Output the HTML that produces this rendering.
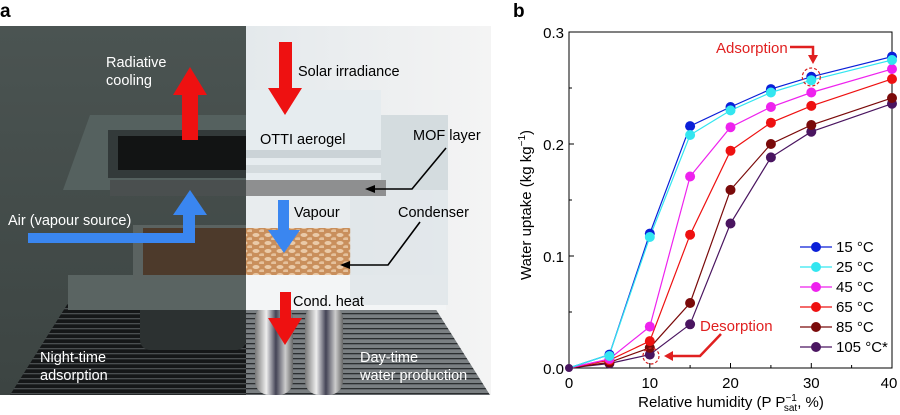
<!DOCTYPE html>
<html><head><meta charset="utf-8"><style>
html,body{margin:0;padding:0;background:#fff;}
svg{display:block;font-family:"Liberation Sans",Arial,sans-serif;}
</style></head><body>
<svg width="900" height="415" viewBox="0 0 900 415" xmlns="http://www.w3.org/2000/svg">
<defs>
<linearGradient id="dk" x1="0" y1="0" x2="0" y2="1"><stop offset="0" stop-color="#4b5452"/><stop offset="1" stop-color="#3c4442"/></linearGradient>
<linearGradient id="lt" x1="0" y1="0" x2="1" y2="0"><stop offset="0" stop-color="#e4e9ec"/><stop offset="1" stop-color="#f4f4f4"/></linearGradient>
<linearGradient id="pipe" x1="0" y1="0" x2="1" y2="0"><stop offset="0" stop-color="#777"/><stop offset="0.3" stop-color="#eee"/><stop offset="0.55" stop-color="#445"/><stop offset="0.8" stop-color="#ccc"/><stop offset="1" stop-color="#666"/></linearGradient>
<pattern id="fins" width="6" height="5" patternUnits="userSpaceOnUse"><rect width="6" height="5" fill="#151718"/><rect y="3" width="6" height="1.3" fill="#4a4e50"/></pattern>
<pattern id="finsL" width="6" height="5" patternUnits="userSpaceOnUse"><rect width="6" height="5" fill="#7a7f82"/><rect y="3" width="6" height="1.3" fill="#2b2e30"/></pattern>
<pattern id="dots" width="12" height="8" patternUnits="userSpaceOnUse"><rect width="12" height="8" fill="#c98f5c"/><ellipse cx="4" cy="3" rx="3.5" ry="2" fill="#eacaa8"/><ellipse cx="10" cy="7" rx="3" ry="1.8" fill="#e5c19c"/></pattern>
</defs>

<!-- Panel a -->
<text x="0" y="17" font-size="19" font-weight="bold">a</text>
<rect x="0" y="26" width="246" height="369" fill="url(#dk)"/>
<rect x="246" y="26" width="245" height="369" fill="url(#lt)"/>

<polygon points="10,395 70,300 246,300 246,395" fill="url(#fins)"/>
<polygon points="246,300 430,300 490,395 246,395" fill="url(#finsL)"/>
<rect x="140" y="290" width="106" height="60" rx="10" fill="#2c3131"/>
<rect x="255" y="305" width="38" height="90" rx="14" fill="url(#pipe)"/>
<rect x="305" y="305" width="38" height="90" rx="14" fill="url(#pipe)"/>

<rect x="68" y="275" width="178" height="35" fill="#5a6462"/>
<rect x="246" y="275" width="200" height="35" fill="#f3f5f6"/>
<rect x="133" y="225" width="113" height="55" fill="#5b6361"/>
<rect x="143" y="228" width="103" height="47" fill="#4d3a2b"/>
<rect x="246" y="228" width="105" height="47" fill="url(#dots)"/>
<rect x="350" y="115" width="98" height="190" fill="#dfe5e8" opacity="0.8"/>
<rect x="246" y="195" width="104" height="33" fill="#e8ecee"/>

<polygon points="63,190 90,115 246,115 246,190" fill="#55615f"/>
<rect x="108" y="130" width="138" height="48" fill="#333a3a"/>
<rect x="118" y="136" width="128" height="34" fill="#121414"/>
<rect x="246" y="90" width="135" height="100" fill="#e6ecef"/>
<rect x="246" y="150" width="135" height="8" fill="#cbd3d7"/>
<rect x="246" y="165" width="135" height="8" fill="#d4dbde"/>
<rect x="381" y="115" width="67" height="75" fill="#d4dcdf"/>
<rect x="110" y="180" width="136" height="16" fill="#4a4f4f"/>
<rect x="246" y="180" width="140" height="16" fill="#8e8f90"/>

<polygon points="182,140 198,140 198,95 207,95 190,67 173,95 182,95" fill="#ee1111"/>
<polygon points="279,42 292,42 292,88 302,88 285,115 268,88 279,88" fill="#ee1111"/>
<polygon points="28,233 183,233 183,215 173,215 190,190 207,215 195,215 195,243 28,243" fill="#3a86f0"/>
<polygon points="278,200 289,200 289,230 300,230 284,253 268,230 278,230" fill="#3a86f0"/>
<polygon points="280,292 291,292 291,318 302,318 285,345 268,318 280,318" fill="#ee1111"/>
<polyline points="446,148 412,189 372,189" fill="none" stroke="#000" stroke-width="1.6"/>
<polygon points="365,189 375,185 375,193" fill="#000"/>
<polyline points="420,222 388,265 347,265" fill="none" stroke="#000" stroke-width="1.6"/>
<polygon points="340,265 350,261 350,269" fill="#000"/>

<g font-size="14.5">
<text x="106" y="67" fill="#fff">Radiative</text>
<text x="106" y="85" fill="#fff">cooling</text>
<text x="298" y="76" fill="#000">Solar irradiance</text>
<text x="260" y="144" fill="#000">OTTI aerogel</text>
<text x="413" y="140" fill="#000">MOF layer</text>
<text x="8" y="225" fill="#fff">Air (vapour source)</text>
<text x="294" y="217" fill="#000">Vapour</text>
<text x="398" y="217" fill="#000">Condenser</text>
<text x="293" y="306" fill="#000">Cond. heat</text>
<text x="40" y="362" fill="#fff">Night-time</text>
<text x="40" y="380" fill="#fff">adsorption</text>
<text x="360" y="362" fill="#fff">Day-time</text>
<text x="360" y="380" fill="#fff">water production</text>
</g>

<!-- Panel b -->
<text x="513" y="17" font-size="19" font-weight="bold">b</text>
<rect x="569" y="32" width="323" height="336" fill="none" stroke="#000" stroke-width="1"/>
<g stroke="#000" stroke-width="1">
<line x1="569" y1="256" x2="574" y2="256"/><line x1="569" y1="144" x2="574" y2="144"/>
<line x1="569" y1="312" x2="572" y2="312"/><line x1="569" y1="200" x2="572" y2="200"/><line x1="569" y1="88" x2="572" y2="88"/>
<line x1="649.8" y1="368" x2="649.8" y2="363"/><line x1="730.5" y1="368" x2="730.5" y2="363"/><line x1="811.3" y1="368" x2="811.3" y2="363"/>
<line x1="609.4" y1="368" x2="609.4" y2="365"/><line x1="690.1" y1="368" x2="690.1" y2="365"/><line x1="770.9" y1="368" x2="770.9" y2="365"/><line x1="851.6" y1="368" x2="851.6" y2="365"/>
</g>
<g font-size="15" text-anchor="end">
<text x="564" y="374">0.0</text><text x="564" y="262">0.1</text><text x="564" y="150">0.2</text><text x="564" y="38">0.3</text>
</g>
<g font-size="15" text-anchor="middle">
<text x="569" y="388">0</text><text x="649.8" y="388">10</text><text x="730.5" y="388">20</text><text x="811.3" y="388">30</text><text x="889" y="388">40</text>
<text x="731" y="407">Relative humidity (P P<tspan font-size="10" dy="-6">−1</tspan><tspan font-size="10" dx="-13" dy="10">sat</tspan><tspan dy="-4">, %)</tspan></text>
<text transform="translate(531,205) rotate(-90)">Water uptake (kg kg<tspan font-size="10" dy="-6">−1</tspan><tspan dy="6">)</tspan></text>
</g>

<g stroke-width="1.2" fill="none">
<polyline stroke="#4a1560" points="569,368 609.4,363.5 649.8,354.6 690.1,324.3 730.5,223.5 770.9,157.4 811.3,131.7 892,103.7"/>
<polyline stroke="#7a0a0a" points="569,368 609.4,362.4 649.8,347.8 690.1,303 730.5,189.9 770.9,144 811.3,125 892,98"/>
<polyline stroke="#ee1111" points="569,368 609.4,360.2 649.8,341.1 690.1,234.7 730.5,150.7 770.9,122.7 811.3,105.9 892,79"/>
<polyline stroke="#ee22ee" points="569,368 609.4,359 649.8,326.6 690.1,176.5 730.5,127.2 770.9,107 811.3,92.5 892,69"/>
<polyline stroke="#0a1fd8" points="569,368 609.4,354.6 649.8,233.6 690.1,126.1 730.5,107 770.9,89.1 811.3,76.8 892,56.6"/>
<polyline stroke="#33e6f0" points="569,368 609.4,354.6 649.8,237 690.1,135 730.5,110.4 770.9,92.5 811.3,80.2 892,60"/>
</g>
<g>
<g fill="#4a1560"><circle cx="609.4" cy="363.5" r="5"/><circle cx="649.8" cy="354.6" r="5"/><circle cx="690.1" cy="324.3" r="5"/><circle cx="730.5" cy="223.5" r="5"/><circle cx="770.9" cy="157.4" r="5"/><circle cx="811.3" cy="131.7" r="5"/><circle cx="892" cy="103.7" r="5"/></g>
<g fill="#7a0a0a"><circle cx="609.4" cy="362.4" r="5"/><circle cx="649.8" cy="347.8" r="5"/><circle cx="690.1" cy="303" r="5"/><circle cx="730.5" cy="189.9" r="5"/><circle cx="770.9" cy="144" r="5"/><circle cx="811.3" cy="125" r="5"/><circle cx="892" cy="98" r="5"/></g>
<g fill="#ee1111"><circle cx="609.4" cy="360.2" r="5"/><circle cx="649.8" cy="341.1" r="5"/><circle cx="690.1" cy="234.7" r="5"/><circle cx="730.5" cy="150.7" r="5"/><circle cx="770.9" cy="122.7" r="5"/><circle cx="811.3" cy="105.9" r="5"/><circle cx="892" cy="79" r="5"/></g>
<g fill="#ee22ee"><circle cx="609.4" cy="359" r="5"/><circle cx="649.8" cy="326.6" r="5"/><circle cx="690.1" cy="176.5" r="5"/><circle cx="730.5" cy="127.2" r="5"/><circle cx="770.9" cy="107" r="5"/><circle cx="811.3" cy="92.5" r="5"/><circle cx="892" cy="69" r="5"/></g>
<g fill="#0a1fd8"><circle cx="609.4" cy="354.6" r="5"/><circle cx="649.8" cy="233.6" r="5"/><circle cx="690.1" cy="126.1" r="5"/><circle cx="730.5" cy="107" r="5"/><circle cx="770.9" cy="89.1" r="5"/><circle cx="811.3" cy="76.8" r="5"/><circle cx="892" cy="56.6" r="5"/></g>
<g fill="#33e6f0"><circle cx="609.4" cy="356" r="5"/><circle cx="649.8" cy="237" r="5"/><circle cx="690.1" cy="135" r="5"/><circle cx="730.5" cy="110.4" r="5"/><circle cx="770.9" cy="92.5" r="5"/><circle cx="811.3" cy="80.2" r="5"/><circle cx="892" cy="60" r="5"/></g>
<circle cx="569" cy="368" r="4" fill="#4a1560"/>
</g>
<circle cx="811.3" cy="77" r="9" fill="none" stroke="#d62020" stroke-width="1.2" stroke-dasharray="3,2"/>
<circle cx="651" cy="356" r="8" fill="none" stroke="#d62020" stroke-width="1.2" stroke-dasharray="3,2"/>
<text x="716" y="53" font-size="15" fill="#e02020">Adsorption</text>
<polyline points="790,47 813,47 813,56" fill="none" stroke="#e02020" stroke-width="2.5"/>
<polygon points="808,55 818,55 813,64" fill="#e02020"/>
<text x="700" y="331" font-size="15" fill="#e02020">Desorption</text>
<polyline points="721,334 700,356 672,356" fill="none" stroke="#e02020" stroke-width="2.5"/>
<polygon points="664,356 673,351 673,361" fill="#e02020"/>

<g stroke-width="1.2">
<line x1="800" y1="247" x2="832" y2="247" stroke="#0a1fd8"/><circle cx="816" cy="247" r="5" fill="#0a1fd8"/>
<line x1="800" y1="267" x2="832" y2="267" stroke="#33e6f0"/><circle cx="816" cy="267" r="5" fill="#33e6f0"/>
<line x1="800" y1="287" x2="832" y2="287" stroke="#ee22ee"/><circle cx="816" cy="287" r="5" fill="#ee22ee"/>
<line x1="800" y1="307" x2="832" y2="307" stroke="#ee1111"/><circle cx="816" cy="307" r="5" fill="#ee1111"/>
<line x1="800" y1="327" x2="832" y2="327" stroke="#7a0a0a"/><circle cx="816" cy="327" r="5" fill="#7a0a0a"/>
<line x1="800" y1="347" x2="832" y2="347" stroke="#4a1560"/><circle cx="816" cy="347" r="5" fill="#4a1560"/>
</g>
<g font-size="15">
<text x="836" y="252">15 °C</text><text x="836" y="272">25 °C</text><text x="836" y="292">45 °C</text>
<text x="836" y="312">65 °C</text><text x="836" y="332">85 °C</text><text x="836" y="352">105 °C*</text>
</g>
</svg>
</body></html>
